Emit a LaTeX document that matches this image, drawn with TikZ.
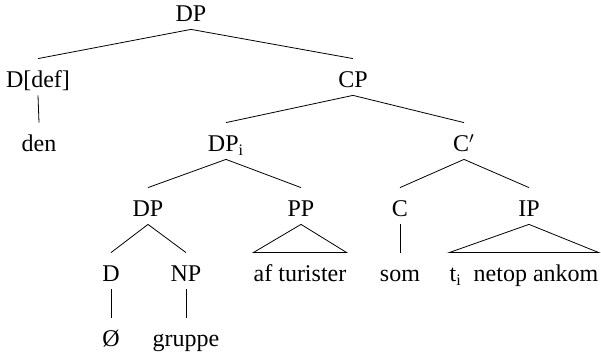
\documentclass[tikz,border=0pt]{standalone}
\usepackage{fontspec}
\setmainfont{Liberation Serif}
\begin{document}
\begin{tikzpicture}[x=0.5pt,y=-0.5pt,
  cat/.style={anchor=base,inner sep=0pt,text height=14.5pt,text depth=3.5pt,font=\fontsize{12}{14}\selectfont}]
\useasboundingbox (0,0) rectangle (601,356);
\node[cat] (DPtop) at (191,22) {DP};
\node[cat] (Ddef) at (38,88) {D[def]};
\node[cat] (CP) at (353,88) {CP};
\node[cat] (den) at (39,152) {den};
\node[cat] (DPi) at (226,152) {DP\textsubscript{i}};
\node[cat] (Cbar) at (464,152) {C$'$};
\node[cat] (DPlow) at (148,217) {DP};
\node[cat] (PP) at (301,217) {PP};
\node[cat] (C) at (400,217) {C};
\node[cat] (IP) at (529,217) {IP};
\node[cat] (D) at (111,282) {D};
\node[cat] (NP) at (186,282) {NP};
\node[cat] (AFT) at (300,282) {af turister};
\node[cat] (SOM) at (400,282) {som};
\node[cat] (TNA) at (524,282) {t\textsubscript{i}\ \ netop ankom};
\node[cat] (ZERO) at (111,347) {Ø};
\node[cat] (GRP) at (186,347) {gruppe};
\draw (Ddef.north) -- (DPtop.south) -- (CP.north);
\draw (Ddef.south) -- (den.north);
\draw (DPi.north) -- (CP.south) -- (Cbar.north);
\draw (DPlow.north) -- (DPi.south) -- (PP.north);
\draw (C.north) -- (Cbar.south) -- (IP.north);
\draw (D.north) -- (DPlow.south) -- (NP.north);
\draw (D.south) -- (ZERO.north);
\draw (NP.south) -- (GRP.north);
\draw (C.south) -- (SOM.north);
\draw (PP.south) -- (AFT.north west) -- (AFT.north east) -- cycle;
\draw (IP.south) -- (TNA.north west) -- (TNA.north east) -- cycle;
\end{tikzpicture}
\end{document}
